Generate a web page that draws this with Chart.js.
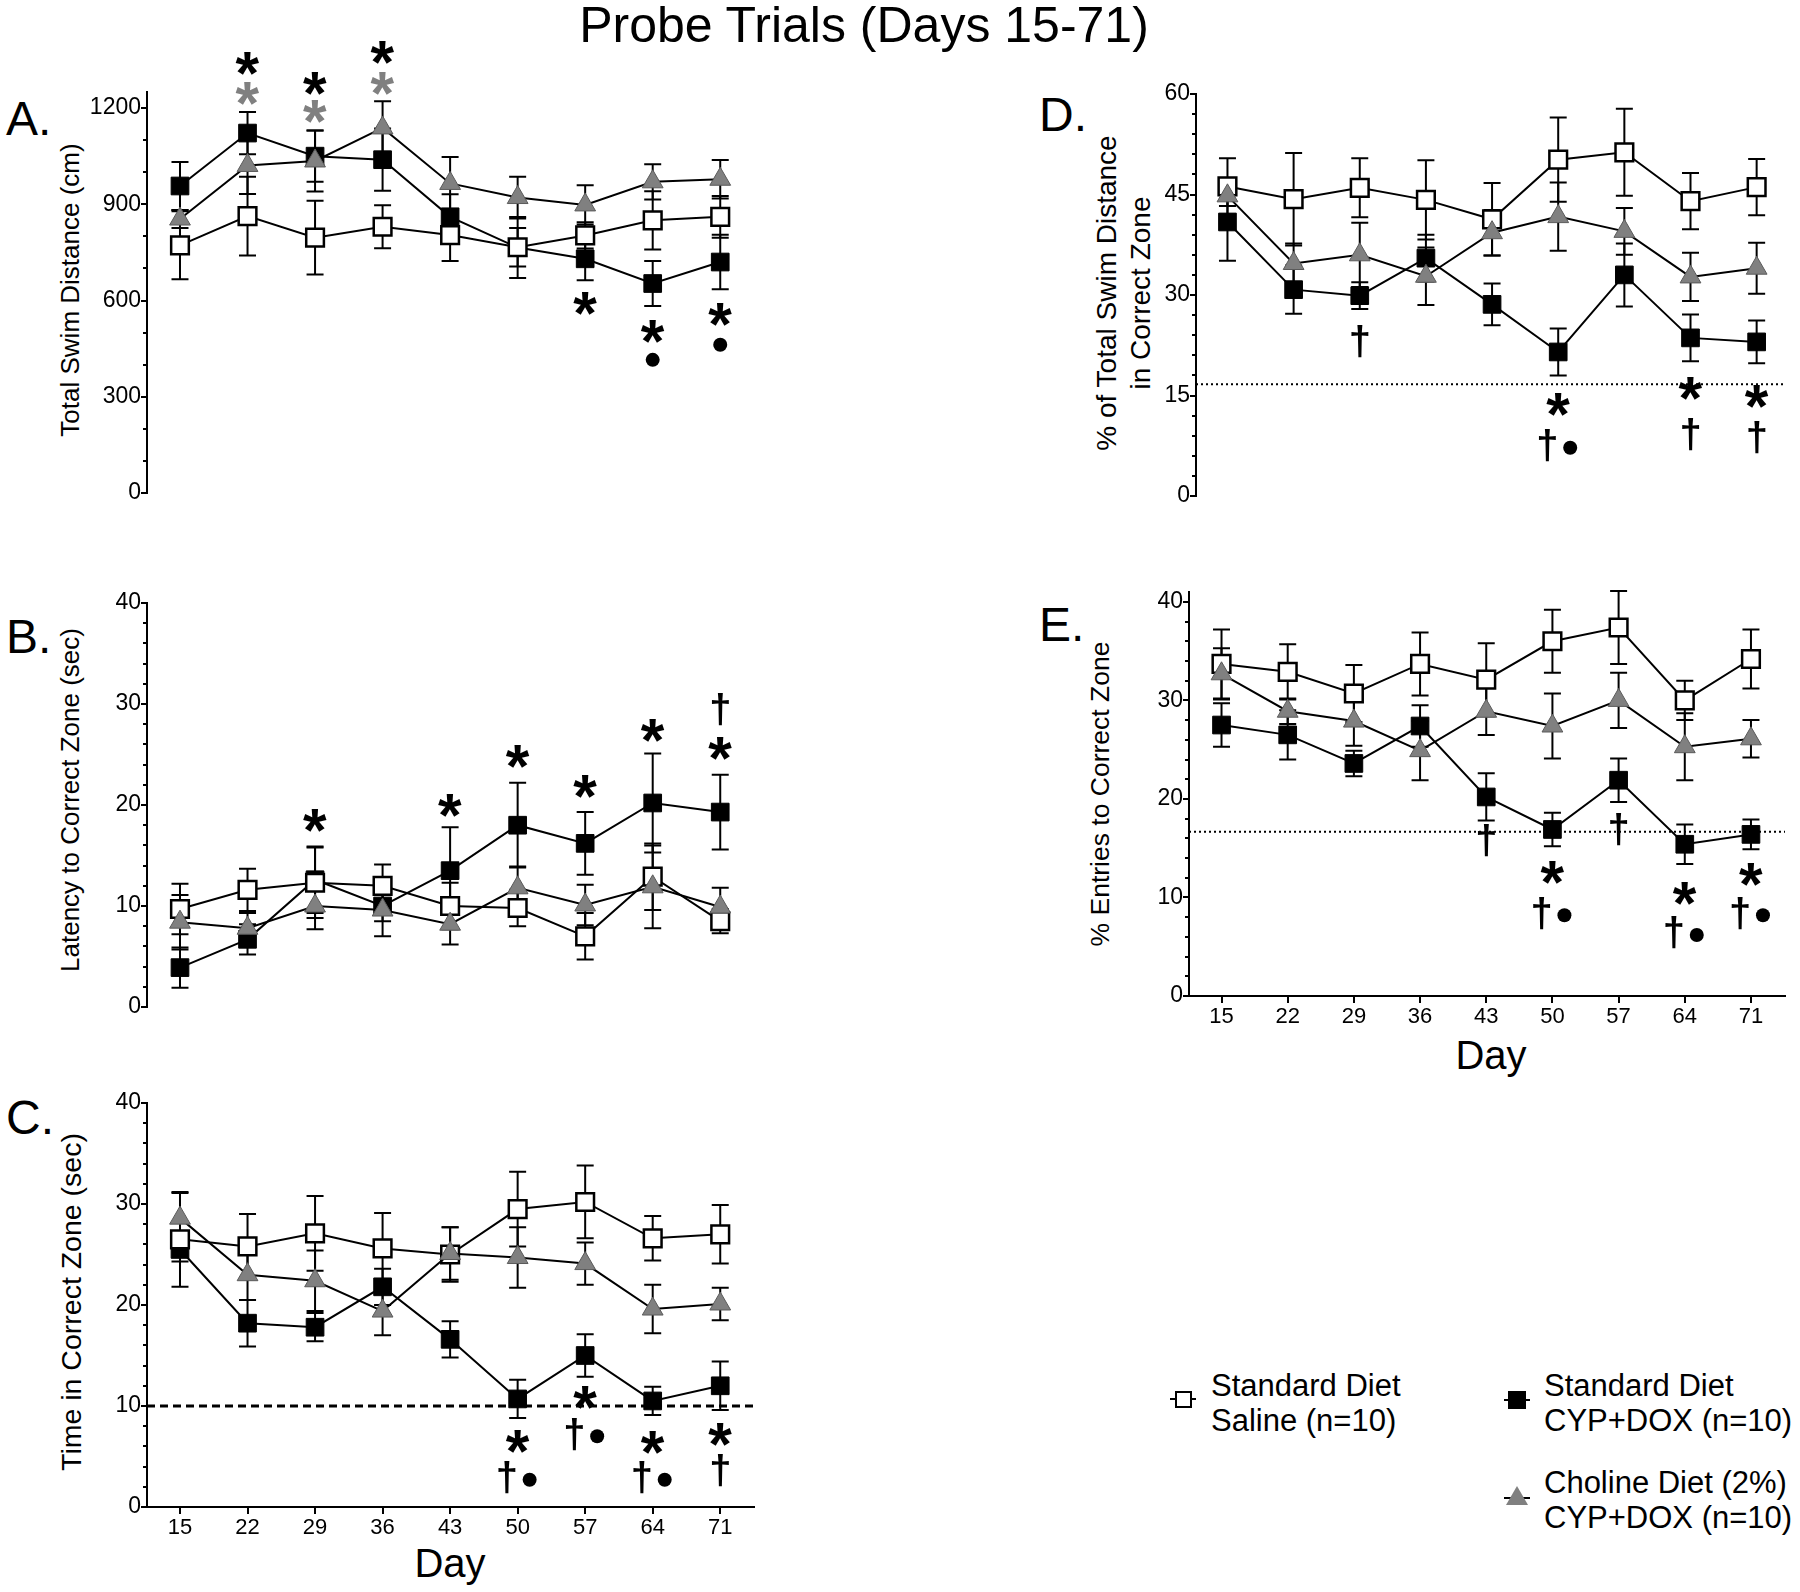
<!DOCTYPE html>
<html>
<head>
<meta charset="utf-8">
<script src="https://cdn.jsdelivr.net/npm/chart.js@4.4.1/dist/chart.umd.min.js"></script>
<style>
  html, body { margin: 0; padding: 0; background: #fff; }
  #page { position: relative; width: 1800px; height: 1592px; overflow: hidden;
          font-family: "Liberation Sans", Arial, sans-serif; color: #000; }
  canvas { position: absolute; }
  .t { position: absolute; white-space: nowrap; line-height: 1; }
  .c { transform: translate(-50%, -50%); }
  .rot { transform: translate(-50%, -50%) rotate(-90deg); text-align: center; }
  .letter { font-size: 48px; transform: translateY(-50%); }
  .ylab { font-size: 26px; }
  .day { font-size: 40px; }
  .leg { position: absolute; font-size: 31px; line-height: 35px; white-space: nowrap; }
  .mk { position: absolute; box-sizing: border-box; }
</style>
</head>
<body>
<div id="page">
  <div class="t c" style="left:864px;top:25px;font-size:50px;">Probe Trials (Days 15-71)</div>

  <div class="t letter" style="left:6px;top:119px;">A.</div>
  <div class="t letter" style="left:6px;top:637px;">B.</div>
  <div class="t letter" style="left:6px;top:1118px;">C.</div>
  <div class="t letter" style="left:1039px;top:115px;">D.</div>
  <div class="t letter" style="left:1039px;top:625px;">E.</div>

  <div class="t rot ylab" style="left:70px;top:290px;">Total Swim Distance (cm)</div>
  <div class="t rot ylab" style="left:70px;top:800px;">Latency to Correct Zone (sec)</div>
  <div class="t rot ylab" style="left:71px;top:1302px;font-size:28.5px;">Time in Correct Zone (sec)</div>
  <div class="t rot ylab" style="left:1124px;top:293px;font-size:28px;line-height:34px;">% of Total Swim Distance<br>in Correct Zone</div>
  <div class="t rot ylab" style="left:1100px;top:794px;font-size:26.5px;">% Entries to Correct Zone</div>

  <div class="t c day" style="left:450px;top:1563px;">Day</div>
  <div class="t c day" style="left:1491px;top:1055px;">Day</div>

  <canvas id="cA"></canvas>
  <canvas id="cB"></canvas>
  <canvas id="cC"></canvas>
  <canvas id="cD"></canvas>
  <canvas id="cE"></canvas>

  <!-- legend -->
  <div class="mk" style="left:1170px;top:1398px;width:26px;height:2px;background:#000;"></div>
  <div class="mk" style="left:1175px;top:1391px;width:17px;height:17px;border:2px solid #000;background:#fff;"></div>
  <div class="leg" style="left:1211px;top:1368px;">Standard Diet<br>Saline (n=10)</div>

  <div class="mk" style="left:1504px;top:1399px;width:26px;height:2px;background:#000;"></div>
  <div class="mk" style="left:1508px;top:1391px;width:18px;height:18px;background:#000;"></div>
  <div class="leg" style="left:1544px;top:1368px;">Standard Diet<br>CYP+DOX (n=10)</div>

  <div class="mk" style="left:1504px;top:1497px;width:26px;height:2px;background:#000;"></div>
  <div class="mk" style="left:1506px;top:1486px;width:0;height:0;border-left:11px solid transparent;border-right:11px solid transparent;border-bottom:19px solid #808080;"></div>
  <div class="leg" style="left:1544px;top:1465px;">Choline Diet (2%)<br>CYP+DOX (n=10)</div>
</div>

<script>
// ---- data ----
const days = [15, 22, 29, 36, 43, 50, 57, 64, 71];

// A. total swim distance (cm)
const openA   = [772, 863, 796, 830, 804, 766, 803, 850, 861];
const openAE  = [106, 123, 115, 67, 81, 60, 41, 91, 65];
const fillA   = [957, 1122, 1050, 1039, 861, 765, 730, 653, 720];
const fillAE  = [75, 66, 80, 97, 70, 95, 67, 70, 85];
const triA    = [854, 1021, 1035, 1138, 965, 921, 898, 970, 978];
const triAE   = [28, 89, 95, 83, 82, 65, 61, 55, 60];
const ticksA  = [0, 300, 600, 900, 1200];
const markDayA  = [22, 22, 29, 29, 36, 36, 57, 64, 64, 71, 71];
const markKindA = ['*', '*g', '*', '*g', '*', '*g', '*', '*', '●', '*', '●'];
const markAtA   = [1340, 1246, 1275, 1188, 1373, 1275, 591, 503, 415, 555, 462];

// B. latency to correct zone (sec)
const openB   = [9.7, 11.6, 12.3, 12.0, 10.0, 9.8, 7.0, 12.9, 8.5];
const openBE  = [2.5, 2.1, 3.5, 2.1, 2.3, 1.8, 2.3, 3.3, 1.2];
const fillB   = [3.9, 6.7, 12.6, 10.0, 13.5, 18.0, 16.2, 20.2, 19.3];
const fillBE  = [2.0, 1.5, 3.3, 1.5, 4.3, 4.2, 3.1, 4.9, 3.7];
const triB    = [8.4, 7.8, 10.0, 9.6, 8.2, 11.8, 10.1, 11.9, 9.9];
const triBE   = [2.7, 1.5, 2.3, 2.6, 2.0, 2.1, 2.0, 4.1, 1.9];
const ticksB  = [0, 10, 20, 30, 40];
const markDayB  = [29, 43, 50, 57, 64, 71, 71];
const markKindB = ['*', '*', '*', '*', '*', '*', '†'];
const markAtB   = [18.5, 20.0, 24.8, 21.8, 27.4, 25.6, 29.5];

// C. time in correct zone (sec)
const openC   = [26.5, 25.8, 27.1, 25.6, 25.0, 29.5, 30.2, 26.6, 27.0];
const openCE  = [4.7, 3.2, 3.7, 3.5, 2.7, 3.7, 3.6, 2.2, 2.9];
const fillC   = [25.5, 18.2, 17.8, 21.8, 16.6, 10.7, 15.0, 10.5, 12.0];
const fillCE  = [1.2, 2.3, 1.4, 1.8, 1.8, 1.9, 2.1, 1.4, 2.4];
const triC    = [28.6, 23.0, 22.4, 19.4, 25.1, 24.7, 24.1, 19.6, 20.1];
const triCE   = [2.5, 2.5, 3.0, 2.4, 2.6, 3.0, 2.1, 2.4, 1.6];
const ticksC  = [0, 10, 20, 30, 40];
const chanceC = 10;
const markDayC  = [50, 50, 57, 57, 64, 64, 71, 71];
const markKindC = ['*', '†●', '*', '†●', '*', '†●', '*', '†'];
const markAtC   = [6.5, 2.9, 10.8, 7.2, 6.4, 2.9, 7.2, 3.6];

// D. % of total swim distance in correct zone
const openD   = [46.2, 44.3, 46.0, 44.2, 41.3, 50.2, 51.3, 44.0, 46.1];
const openDE  = [4.2, 6.9, 4.4, 5.9, 5.4, 6.3, 6.5, 4.2, 4.2];
const fillD   = [40.9, 30.8, 29.9, 35.5, 28.6, 21.5, 33.0, 23.6, 23.0];
const fillDE  = [5.8, 3.6, 2.0, 3.5, 3.1, 3.5, 4.7, 3.5, 3.2];
const triD    = [44.8, 34.7, 36.0, 32.8, 39.3, 41.7, 39.5, 32.7, 34.0];
const triDE   = [1.5, 3.0, 4.8, 4.3, 3.4, 5.1, 3.5, 3.6, 3.8];
const ticksD  = [0, 15, 30, 45, 60];
const chanceD = 16.67;
const markDayD  = [29, 50, 50, 64, 64, 71, 71];
const markKindD = ['†', '*', '†●', '*', '†', '*', '†'];
const markAtD   = [23.1, 13.7, 7.5, 16.1, 9.2, 14.9, 8.7];

// E. % entries to correct zone
const openE   = [33.7, 32.9, 30.7, 33.7, 32.1, 36.0, 37.4, 30.0, 34.2];
const openEE  = [3.5, 2.8, 2.9, 3.2, 3.7, 3.2, 3.7, 2.0, 3.0];
const fillE   = [27.5, 26.5, 23.6, 27.4, 20.2, 16.9, 21.9, 15.4, 16.4];
const fillEE  = [2.2, 2.5, 1.3, 2.1, 2.4, 1.7, 2.2, 2.0, 1.5];
const triE    = [32.7, 28.9, 27.9, 24.9, 28.9, 27.4, 30.0, 25.3, 26.1];
const triEE   = [2.6, 1.3, 2.5, 3.0, 2.4, 3.3, 2.8, 3.4, 1.9];
const ticksE  = [0, 10, 20, 30, 40];
const chanceE = 16.67;
const markDayE  = [43, 50, 50, 57, 64, 64, 71, 71];
const markKindE = ['†', '*', '†●', '†', '*', '†●', '*', '†●'];
const markAtE   = [15.8, 12.5, 8.4, 16.9, 10.4, 6.4, 12.3, 8.4];

// ---- drawing ----
const FONT = '"Liberation Sans", Arial, sans-serif';
const GRAY = '#808080';
const CAP = 8.5;      // half width of error bar caps
const STAR_H = 23;    // asterisk glyph height
const DAG_H = 32;     // dagger glyph height
Chart.defaults.font.family = FONT;
Chart.defaults.color = '#000';

function pts(vals) {
  return vals.map(function (v, i) { return { x: days[i], y: v }; });
}

function drawGlyph(ctx, ch, x, y, h, color) {
  ctx.font = 'bold 100px ' + FONT;
  var m = ctx.measureText(ch);
  var s = 100 * h / (m.actualBoundingBoxAscent + m.actualBoundingBoxDescent);
  ctx.font = 'bold ' + s.toFixed(1) + 'px ' + FONT;
  m = ctx.measureText(ch);
  ctx.textAlign = 'left';
  ctx.textBaseline = 'alphabetic';
  ctx.fillStyle = color;
  ctx.fillText(ch, x - (m.actualBoundingBoxRight - m.actualBoundingBoxLeft) / 2,
               y + (m.actualBoundingBoxAscent - m.actualBoundingBoxDescent) / 2);
}

function dot(ctx, x, y) {
  ctx.fillStyle = '#000';
  ctx.beginPath();
  ctx.arc(x, y, 7, 0, Math.PI * 2);
  ctx.fill();
}

// error bars, chance line, minor ticks and significance marks
function extras(p) {
  return {
    id: 'extras',
    beforeDatasetsDraw: function (chart) {
      var ctx = chart.ctx, ys = chart.scales.y, a = chart.chartArea;
      ctx.save();
      if (p.chance !== undefined) {
        var yc = ys.getPixelForValue(p.chance);
        ctx.strokeStyle = '#000';
        ctx.lineWidth = p.dash[0] > 3 ? 3 : 2;
        ctx.setLineDash(p.dash);
        ctx.beginPath();
        ctx.moveTo(a.left, yc);
        ctx.lineTo(a.right, yc);
        ctx.stroke();
        ctx.setLineDash([]);
      }
      ctx.strokeStyle = '#000';
      ctx.lineWidth = 2;
      chart.data.datasets.forEach(function (ds, i) {
        var meta = chart.getDatasetMeta(i);
        meta.data.forEach(function (pt, j) {
          var v = ds.data[j].y, e = ds.err[j];
          var y1 = ys.getPixelForValue(v + e), y2 = ys.getPixelForValue(v - e);
          ctx.beginPath();
          ctx.moveTo(pt.x, y1); ctx.lineTo(pt.x, y2);
          ctx.moveTo(pt.x - CAP, y1); ctx.lineTo(pt.x + CAP, y1);
          ctx.moveTo(pt.x - CAP, y2); ctx.lineTo(pt.x + CAP, y2);
          ctx.stroke();
        });
      });
      ctx.restore();
    },
    afterDatasetsDraw: function (chart) {
      var ctx = chart.ctx, xs = chart.scales.x, ys = chart.scales.y;
      ctx.save();
      p.markDay.forEach(function (d, i) {
        var x = xs.getPixelForValue(d), y = ys.getPixelForValue(p.markAt[i]), k = p.markKind[i];
        if (k === '*') drawGlyph(ctx, '*', x, y, STAR_H, '#000');
        else if (k === '*g') drawGlyph(ctx, '*', x, y, STAR_H, GRAY);
        else if (k === '†') drawGlyph(ctx, '†', x, y, DAG_H, '#000');
        else if (k === '●') dot(ctx, x, y);
        else if (k === '†●') { drawGlyph(ctx, '†', x - 11, y, DAG_H, '#000'); dot(ctx, x + 12, y + 2); }
      });
      // minor ticks on the y axis
      var ax = chart.chartArea.left;
      ctx.strokeStyle = '#000';
      ctx.lineWidth = 2;
      for (var v = 0; v <= p.ticks[p.ticks.length - 1]; v += p.minor) {
        if (p.ticks.indexOf(v) >= 0) continue;
        var yy = Math.round(ys.getPixelForValue(v));
        ctx.beginPath();
        ctx.moveTo(ax, yy); ctx.lineTo(ax - 4, yy);
        ctx.stroke();
      }
      ctx.restore();
    }
  };
}

const Y_W = 70, X_H = 40;

function panel(id, p) {
  var cv = document.getElementById(id);
  cv.width = p.box.w; cv.height = p.box.h;
  cv.style.left = p.box.x + 'px'; cv.style.top = p.box.y + 'px';
  var xh = p.showX ? X_H : 0;
  new Chart(cv, {
    type: 'line',
    data: {
      datasets: [
        { label: 'Choline Diet (2%) CYP+DOX (n=10)', data: pts(p.tri), err: p.triE,
          pointStyle: 'triangle', pointRadius: 12, pointBackgroundColor: GRAY,
          pointBorderColor: '#5a5a5a', pointBorderWidth: 1, borderColor: '#000', borderWidth: 2 },
        { label: 'Standard Diet Saline (n=10)', data: pts(p.open), err: p.openE,
          pointStyle: 'rect', pointRadius: 12.5, pointBackgroundColor: '#fff',
          pointBorderColor: '#000', pointBorderWidth: 2.5, borderColor: '#000', borderWidth: 2 },
        { label: 'Standard Diet CYP+DOX (n=10)', data: pts(p.fill), err: p.fillE,
          pointStyle: 'rect', pointRadius: 12.5, pointBackgroundColor: '#000',
          pointBorderColor: '#000', pointBorderWidth: 1, borderColor: '#000', borderWidth: 2 }
      ]
    },
    options: {
      responsive: false,
      animation: false,
      events: [],
      clip: false,
      layout: {
        padding: {
          left: p.area.l - p.box.x - Y_W,
          top: p.area.t - p.box.y,
          right: p.box.x + p.box.w - p.area.r,
          bottom: p.box.y + p.box.h - p.area.b - xh
        }
      },
      plugins: { legend: { display: false }, tooltip: { enabled: false } },
      scales: {
        x: {
          type: 'linear', display: p.showX, min: p.xMin, max: p.xMax,
          afterBuildTicks: function (s) { s.ticks = days.map(function (d) { return { value: d }; }); },
          afterFit: function (s) { s.height = xh; },
          grid: { drawOnChartArea: false, drawTicks: true, tickLength: 7, color: '#000', lineWidth: 2 },
          border: { display: true, color: '#000', width: 2 },
          ticks: { font: { family: FONT, size: 22 }, color: '#000', padding: 1, maxRotation: 0,
                   callback: function (v) { return String(v); } }
        },
        y: {
          type: 'linear', min: 0, max: p.yMax,
          afterBuildTicks: function (s) { s.ticks = p.ticks.map(function (v) { return { value: v }; }); },
          afterFit: function (s) { s.width = Y_W; },
          grid: { drawOnChartArea: false, drawTicks: true, tickLength: 6, color: '#000', lineWidth: 2 },
          border: { display: true, color: '#000', width: 2 },
          ticks: { font: { family: FONT, size: 23 }, color: '#000', padding: 0,
                   callback: function (v) { return String(v); } }
        }
      }
    },
    plugins: [extras(p)]
  });
}

panel('cA', { box: { x: 0, y: 0, w: 800, h: 540 }, area: { l: 147, t: 92, r: 754, b: 493 },
  xMin: 11.58, xMax: 74.5, yMax: 1250, ticks: ticksA, minor: 100, showX: false,
  open: openA, openE: openAE, fill: fillA, fillE: fillAE, tri: triA, triE: triAE,
  markDay: markDayA, markKind: markKindA, markAt: markAtA });

panel('cB', { box: { x: 0, y: 540, w: 800, h: 520 }, area: { l: 147, t: 603, r: 754, b: 1007 },
  xMin: 11.58, xMax: 74.5, yMax: 40, ticks: ticksB, minor: 2, showX: false,
  open: openB, openE: openBE, fill: fillB, fillE: fillBE, tri: triB, triE: triBE,
  markDay: markDayB, markKind: markKindB, markAt: markAtB });

panel('cC', { box: { x: 0, y: 1060, w: 800, h: 532 }, area: { l: 147, t: 1103, r: 754, b: 1507 },
  xMin: 11.58, xMax: 74.5, yMax: 40, ticks: ticksC, minor: 2, showX: true,
  open: openC, openE: openCE, fill: fillC, fillE: fillCE, tri: triC, triE: triCE,
  chance: chanceC, dash: [8, 5],
  markDay: markDayC, markKind: markKindC, markAt: markAtC });

panel('cD', { box: { x: 1000, y: 0, w: 800, h: 540 }, area: { l: 1196, t: 94, r: 1795, b: 496 },
  xMin: 11.67, xMax: 74.0, yMax: 60, ticks: ticksD, minor: 3, showX: false,
  open: openD, openE: openDE, fill: fillD, fillE: fillDE, tri: triD, triE: triDE,
  chance: chanceD, dash: [2, 3],
  markDay: markDayD, markKind: markKindD, markAt: markAtD });

panel('cE', { box: { x: 1000, y: 540, w: 800, h: 560 }, area: { l: 1189, t: 592, r: 1795, b: 996 },
  xMin: 11.56, xMax: 74.6, yMax: 41, ticks: ticksE, minor: 2, showX: true,
  open: openE, openE: openEE, fill: fillE, fillE: fillEE, tri: triE, triE: triEE,
  chance: chanceE, dash: [2, 3],
  markDay: markDayE, markKind: markKindE, markAt: markAtE });
</script>
</body>
</html>
